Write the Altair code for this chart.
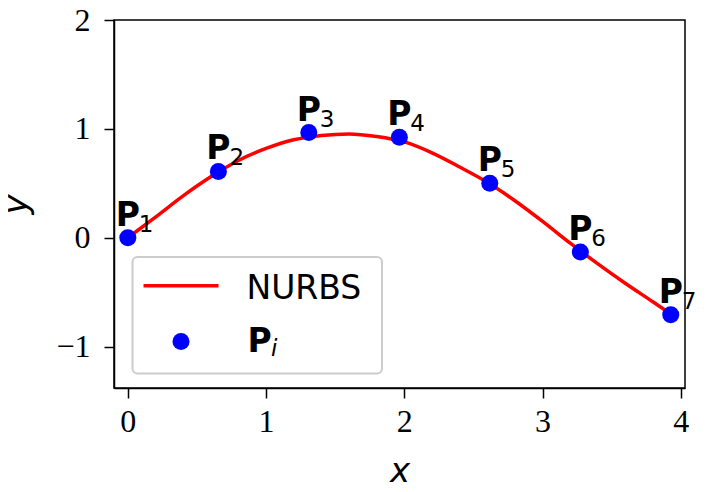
import altair as alt
import pandas as pd

# Control points P1..P7
px = [0.0, 0.655, 1.309, 1.964, 2.618, 3.273, 3.927]
py = [0.0, 0.609, 0.966, 0.924, 0.500, -0.131, -0.707]
sub = ["1", "2", "3", "4", "5", "6", "7"]

# NURBS curve samples
cx = [0.0, 0.2, 0.4, 0.6, 0.8, 1.0, 1.2, 1.4, 1.6, 1.8, 2.0, 2.2, 2.4, 2.6,
      2.8, 3.0, 3.2, 3.4, 3.6, 3.8, 3.927]
cy = [0.00, 0.19, 0.385, 0.56, 0.71, 0.82, 0.90, 0.94, 0.954, 0.93, 0.88,
      0.78, 0.65, 0.51, 0.34, 0.15, -0.05, -0.24, -0.42, -0.59, -0.70]

xticks = [0, 1, 2, 3, 4]
yticks = [-1, 0, 1, 2]

pts = pd.DataFrame({"x": px, "y": py, "s": sub})
curve = pd.DataFrame({"x": cx, "y": cy})
one = pd.DataFrame({"k": [0]})

W, H = 571, 368
xs = alt.Scale(domain=[-0.1, 4.03], nice=False, zero=False)
ys = alt.Scale(domain=[-1.38, 2.0], nice=False, zero=False)

X = alt.X("x:Q", scale=xs, title="x",
          axis=alt.Axis(values=xticks, format="d", titlePadding=17, labelPadding=8))
Y = alt.Y("y:Q", scale=ys, title="y",
          axis=alt.Axis(values=yticks, format="d", titlePadding=22, labelPadding=14))

line = alt.Chart(curve).mark_line(color="#ff0000", strokeWidth=3.5, interpolate="monotone").encode(x=X, y=Y)
dots = alt.Chart(pts).mark_point(filled=True, color="#0000ff", size=290, opacity=1).encode(x="x:Q", y="y:Q")
ptxt = alt.Chart(pts).mark_text(text="P", font="DejaVu Sans", fontWeight="bold", fontSize=33,
                                align="center", baseline="alphabetic", dy=-12, color="black").encode(x="x:Q", y="y:Q")
stxt = alt.Chart(pts).mark_text(font="DejaVu Sans", fontSize=23, align="left", baseline="alphabetic",
                                dx=11, dy=-6, color="black").encode(x="x:Q", y="y:Q", text="s:N")

# legend box
box = alt.Chart(one).mark_rect(fill="white", fillOpacity=0.8, stroke="#cccccc", strokeWidth=2,
                               cornerRadius=5).encode(
    x=alt.value(18.5), x2=alt.value(268), y=alt.value(237), y2=alt.value(353.5))
lline = alt.Chart(one).mark_rule(color="#ff0000", strokeWidth=3.5).encode(
    x=alt.value(29.5), x2=alt.value(104.5), y=alt.value(265.7))
ldot = alt.Chart(one).mark_point(filled=True, color="#0000ff", size=290, opacity=1).encode(
    x=alt.value(67), y=alt.value(321.5))
ltxt1 = alt.Chart(one).mark_text(text="NURBS", font="DejaVu Sans", fontSize=33, align="left",
                                 baseline="alphabetic", color="black").encode(x=alt.value(132.5), y=alt.value(279))
ltxt2 = alt.Chart(one).mark_text(text="P", font="DejaVu Sans", fontWeight="bold", fontSize=33, align="left",
                                 baseline="alphabetic", color="black").encode(x=alt.value(133.5), y=alt.value(331.5))
ltxt3 = alt.Chart(one).mark_text(text="i", font="DejaVu Sans", fontStyle="italic", fontSize=23, align="left",
                                 baseline="alphabetic", color="black").encode(x=alt.value(157), y=alt.value(335.5))

chart = alt.layer(line, dots, ptxt, stxt, box, lline, ldot, ltxt1, ltxt2, ltxt3).properties(
    width=W, height=H,
    autosize=alt.AutoSizeParams(type="none"),
    padding={"left": 106, "top": 12, "right": 20, "bottom": 96},
).configure_view(stroke="black", strokeWidth=1.5).configure_axis(
    grid=False, domainColor="black", domainWidth=1.5, tickColor="black", tickWidth=1.5, tickSize=10,
    labelFont="Liberation Serif", labelFontSize=32, labelColor="black",
    titleFont="DejaVu Sans", titleFontStyle="italic", titleFontWeight="normal", titleFontSize=34,
    titleColor="black",
)

chart.save("out.html", embed_options={"renderer": "svg", "actions": False})
